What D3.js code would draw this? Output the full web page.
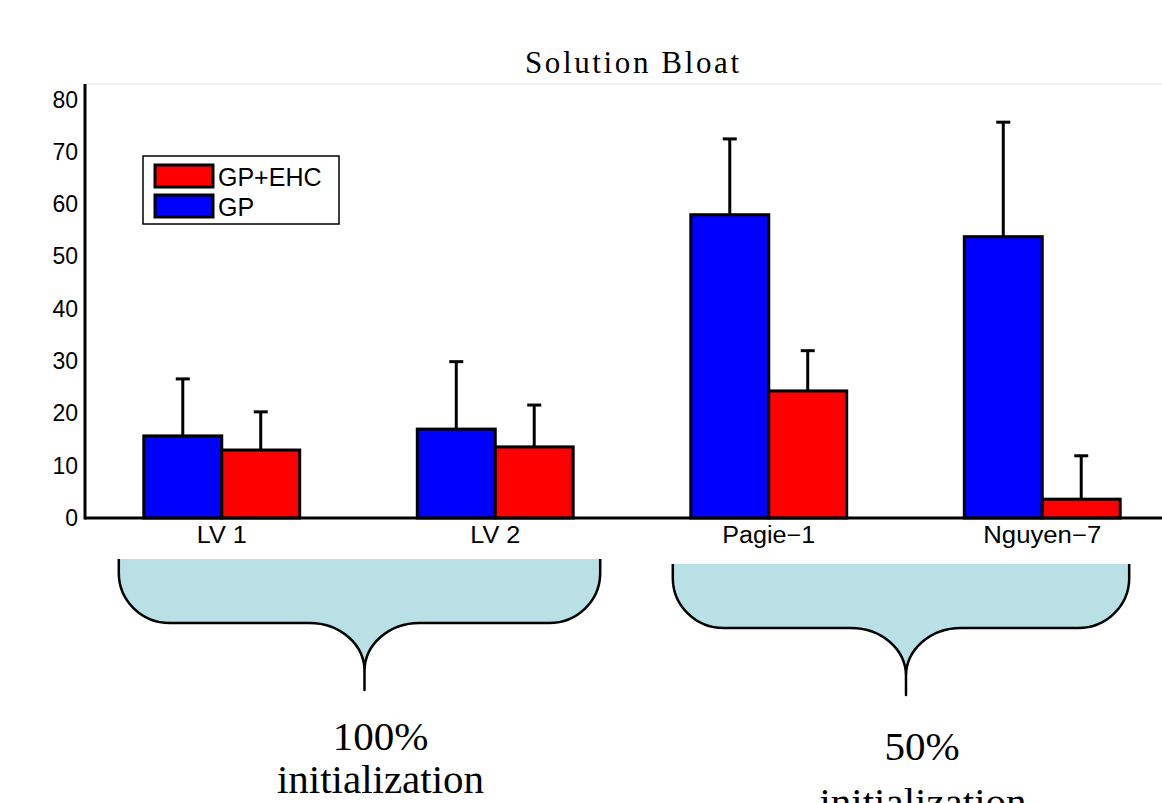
<!DOCTYPE html>
<html lang="en">
<head>
<meta charset="UTF-8">
<title>Solution Bloat</title>
<script src="https://d3js.org/d3.v7.min.js"></script>
<style>
  body { margin: 0; background: #fff; }
  .tick-label { font-family: "Liberation Sans", Arial, sans-serif; font-size: 23px; fill: #000; }
  .x-label { font-family: "Liberation Sans", Arial, sans-serif; font-size: 23px; fill: #000; }
  .title { font-family: "Liberation Serif", "Times New Roman", serif; font-size: 31px; }
  .note { font-family: "Liberation Serif", "Times New Roman", serif; font-size: 41px; }
</style>
</head>
<body>
<div id="chart"></div>
<script>
// data
const categories = ["LV 1", "LV 2", "Pagie\u22121", "Nguyen\u22127"];
const seriesNames = ["GP", "GP+EHC"];
const gpMeans = [15.7, 17.0, 58.0, 53.8];
const gpStd = [10.9, 12.9, 14.5, 21.9];
const ehcMeans = [13.0, 13.6, 24.3, 3.6];
const ehcStd = [7.3, 8.0, 7.7, 8.3];
const yTicks = [0, 10, 20, 30, 40, 50, 60, 70, 80];
const groupSpans = [["LV 1", "LV 2"], ["Pagie\u22121", "Nguyen\u22127"]];
const groupLines = [["100%", "initialization"], ["50%", "initialization"]];
const legendOrder = ["GP+EHC", "GP"];

const colors = { "GP": "#0000ff", "GP+EHC": "#ff0000" };
// the source figure is a little stretched sideways: widths of the x labels
const labelWidths = { "LV 1": 50, "LV 2": 50, "Pagie\u22121": 93, "Nguyen\u22127": 118 };

const width = 1162, height = 803;
const svg = d3.select("#chart").append("svg")
    .attr("width", width)
    .attr("height", height);

const x = d3.scaleBand()
    .domain(categories)
    .range([85, 1179])
    .paddingInner(0.43)
    .paddingOuter(0.215);

const xs = d3.scaleBand()
    .domain(seriesNames)
    .range([0, x.bandwidth()]);

const y = d3.scaleLinear()
    .domain([0, 83])
    .range([518, 84]);

const rows = [];
categories.forEach((c, i) => {
    rows.push({ cat: c, series: "GP", mean: gpMeans[i], sd: gpStd[i] });
    rows.push({ cat: c, series: "GP+EHC", mean: ehcMeans[i], sd: ehcStd[i] });
});

// faint top edge of the axes box
svg.append("line")
    .attr("x1", 85).attr("x2", width)
    .attr("y1", y(83)).attr("y2", y(83))
    .attr("stroke", "#eeeeee").attr("stroke-width", 1.5);

// title
svg.append("text")
    .attr("class", "title")
    .attr("x", (x.range()[0] + x.range()[1]) / 2)
    .attr("y", 73)
    .attr("text-anchor", "middle")
    .attr("textLength", 214)
    .attr("lengthAdjust", "spacing")
    .text("Solution Bloat");

// error bars (upper only), drawn under bars
const errG = svg.append("g").attr("stroke", "#000").attr("stroke-width", 3);
rows.forEach(d => {
    const cx = x(d.cat) + xs(d.series) + xs.bandwidth() / 2;
    errG.append("line")
        .attr("x1", cx).attr("x2", cx)
        .attr("y1", y(d.mean)).attr("y2", y(d.mean + d.sd));
    errG.append("line")
        .attr("x1", cx - 7).attr("x2", cx + 7)
        .attr("y1", y(d.mean + d.sd)).attr("y2", y(d.mean + d.sd));
});

// bars
svg.append("g").selectAll("rect")
    .data(rows)
    .enter().append("rect")
    .attr("x", d => x(d.cat) + xs(d.series))
    .attr("y", d => y(d.mean))
    .attr("width", xs.bandwidth())
    .attr("height", d => y(0) - y(d.mean))
    .attr("fill", d => colors[d.series])
    .attr("stroke", "#000")
    .attr("stroke-width", 3);

// axes
const yAxis = svg.append("g")
    .attr("transform", "translate(85,0)")
    .call(d3.axisLeft(y).tickValues(yTicks).tickSize(0).tickPadding(7));
yAxis.select(".domain").remove();
yAxis.selectAll("text").attr("class", "tick-label");

const xAxis = svg.append("g")
    .attr("transform", `translate(0,${y(0)})`)
    .call(d3.axisBottom(x).tickSize(0).tickPadding(9));
xAxis.select(".domain").remove();
xAxis.selectAll("text")
    .attr("class", "x-label")
    .attr("textLength", d => labelWidths[d])
    .attr("lengthAdjust", "spacingAndGlyphs");

svg.append("line")
    .attr("x1", 85).attr("x2", 85)
    .attr("y1", y(83)).attr("y2", y(0) + 1.5)
    .attr("stroke", "#000").attr("stroke-width", 3);
svg.append("line")
    .attr("x1", 85).attr("x2", width)
    .attr("y1", y(0)).attr("y2", y(0))
    .attr("stroke", "#000").attr("stroke-width", 3);

// legend
const legend = svg.append("g").attr("transform", "translate(143,156)");
legend.append("rect")
    .attr("width", 196).attr("height", 68)
    .attr("fill", "#fff").attr("stroke", "#000").attr("stroke-width", 1.5);
legendOrder.forEach((name, i) => {
    legend.append("rect")
        .attr("x", 12).attr("y", 9 + i * 30)
        .attr("width", 58).attr("height", 22)
        .attr("fill", colors[name]).attr("stroke", "#000").attr("stroke-width", 3);
    legend.append("text")
        .attr("class", "tick-label")
        .style("font-size", "25px")
        .attr("x", 75).attr("y", 30 + i * 30)
        .text(name);
});

// braces marking initialization groups
const bracePads = [[-25, 27, 0], [-18, 9, 5]];
const braceG = svg.append("g");
groupSpans.forEach((span, i) => {
    const [pl, pr, dy] = bracePads[i];
    const x0 = x(span[0]) + pl;
    const x1 = x(span[1]) + x.bandwidth() + pr;
    const tx = (x0 + x1) / 2 + 5;
    const top = 559 + dy, bottom = 623 + dy, tipY = 690 + dy;
    const r = 50, t = 55, tv = 48;
    const path = [
        `M${x0},${top}`,
        `L${x0},${bottom - r}`,
        `A${r + 1},${r} 0 0 0 ${x0 + r + 1},${bottom}`,
        `L${tx - t},${bottom}`,
        `A${t},${tv} 0 0 1 ${tx},${bottom + tv}`,
        `L${tx},${tipY}`,
        `L${tx},${bottom + tv}`,
        `A${t},${tv} 0 0 1 ${tx + t},${bottom}`,
        `L${x1 - r - 1},${bottom}`,
        `A${r + 1},${r} 0 0 0 ${x1},${bottom - r}`,
        `L${x1},${top}`
    ].join(" ");
    braceG.append("path")
        .attr("d", path)
        .attr("fill", "#b9e0e4")
        .attr("stroke", "#000")
        .attr("stroke-width", 2.5)
        .attr("stroke-linejoin", "round");

    const baselines = i === 0 ? [750, 793] : [760, 816];
    groupLines[i].forEach((line, j) => {
        svg.append("text")
            .attr("class", "note")
            .attr("x", tx + 16 + (i === 1 && j === 1 ? 1 : 0))
            .attr("y", baselines[j])
            .attr("text-anchor", "middle")
            .text(line);
    });
});
</script>
</body>
</html>
